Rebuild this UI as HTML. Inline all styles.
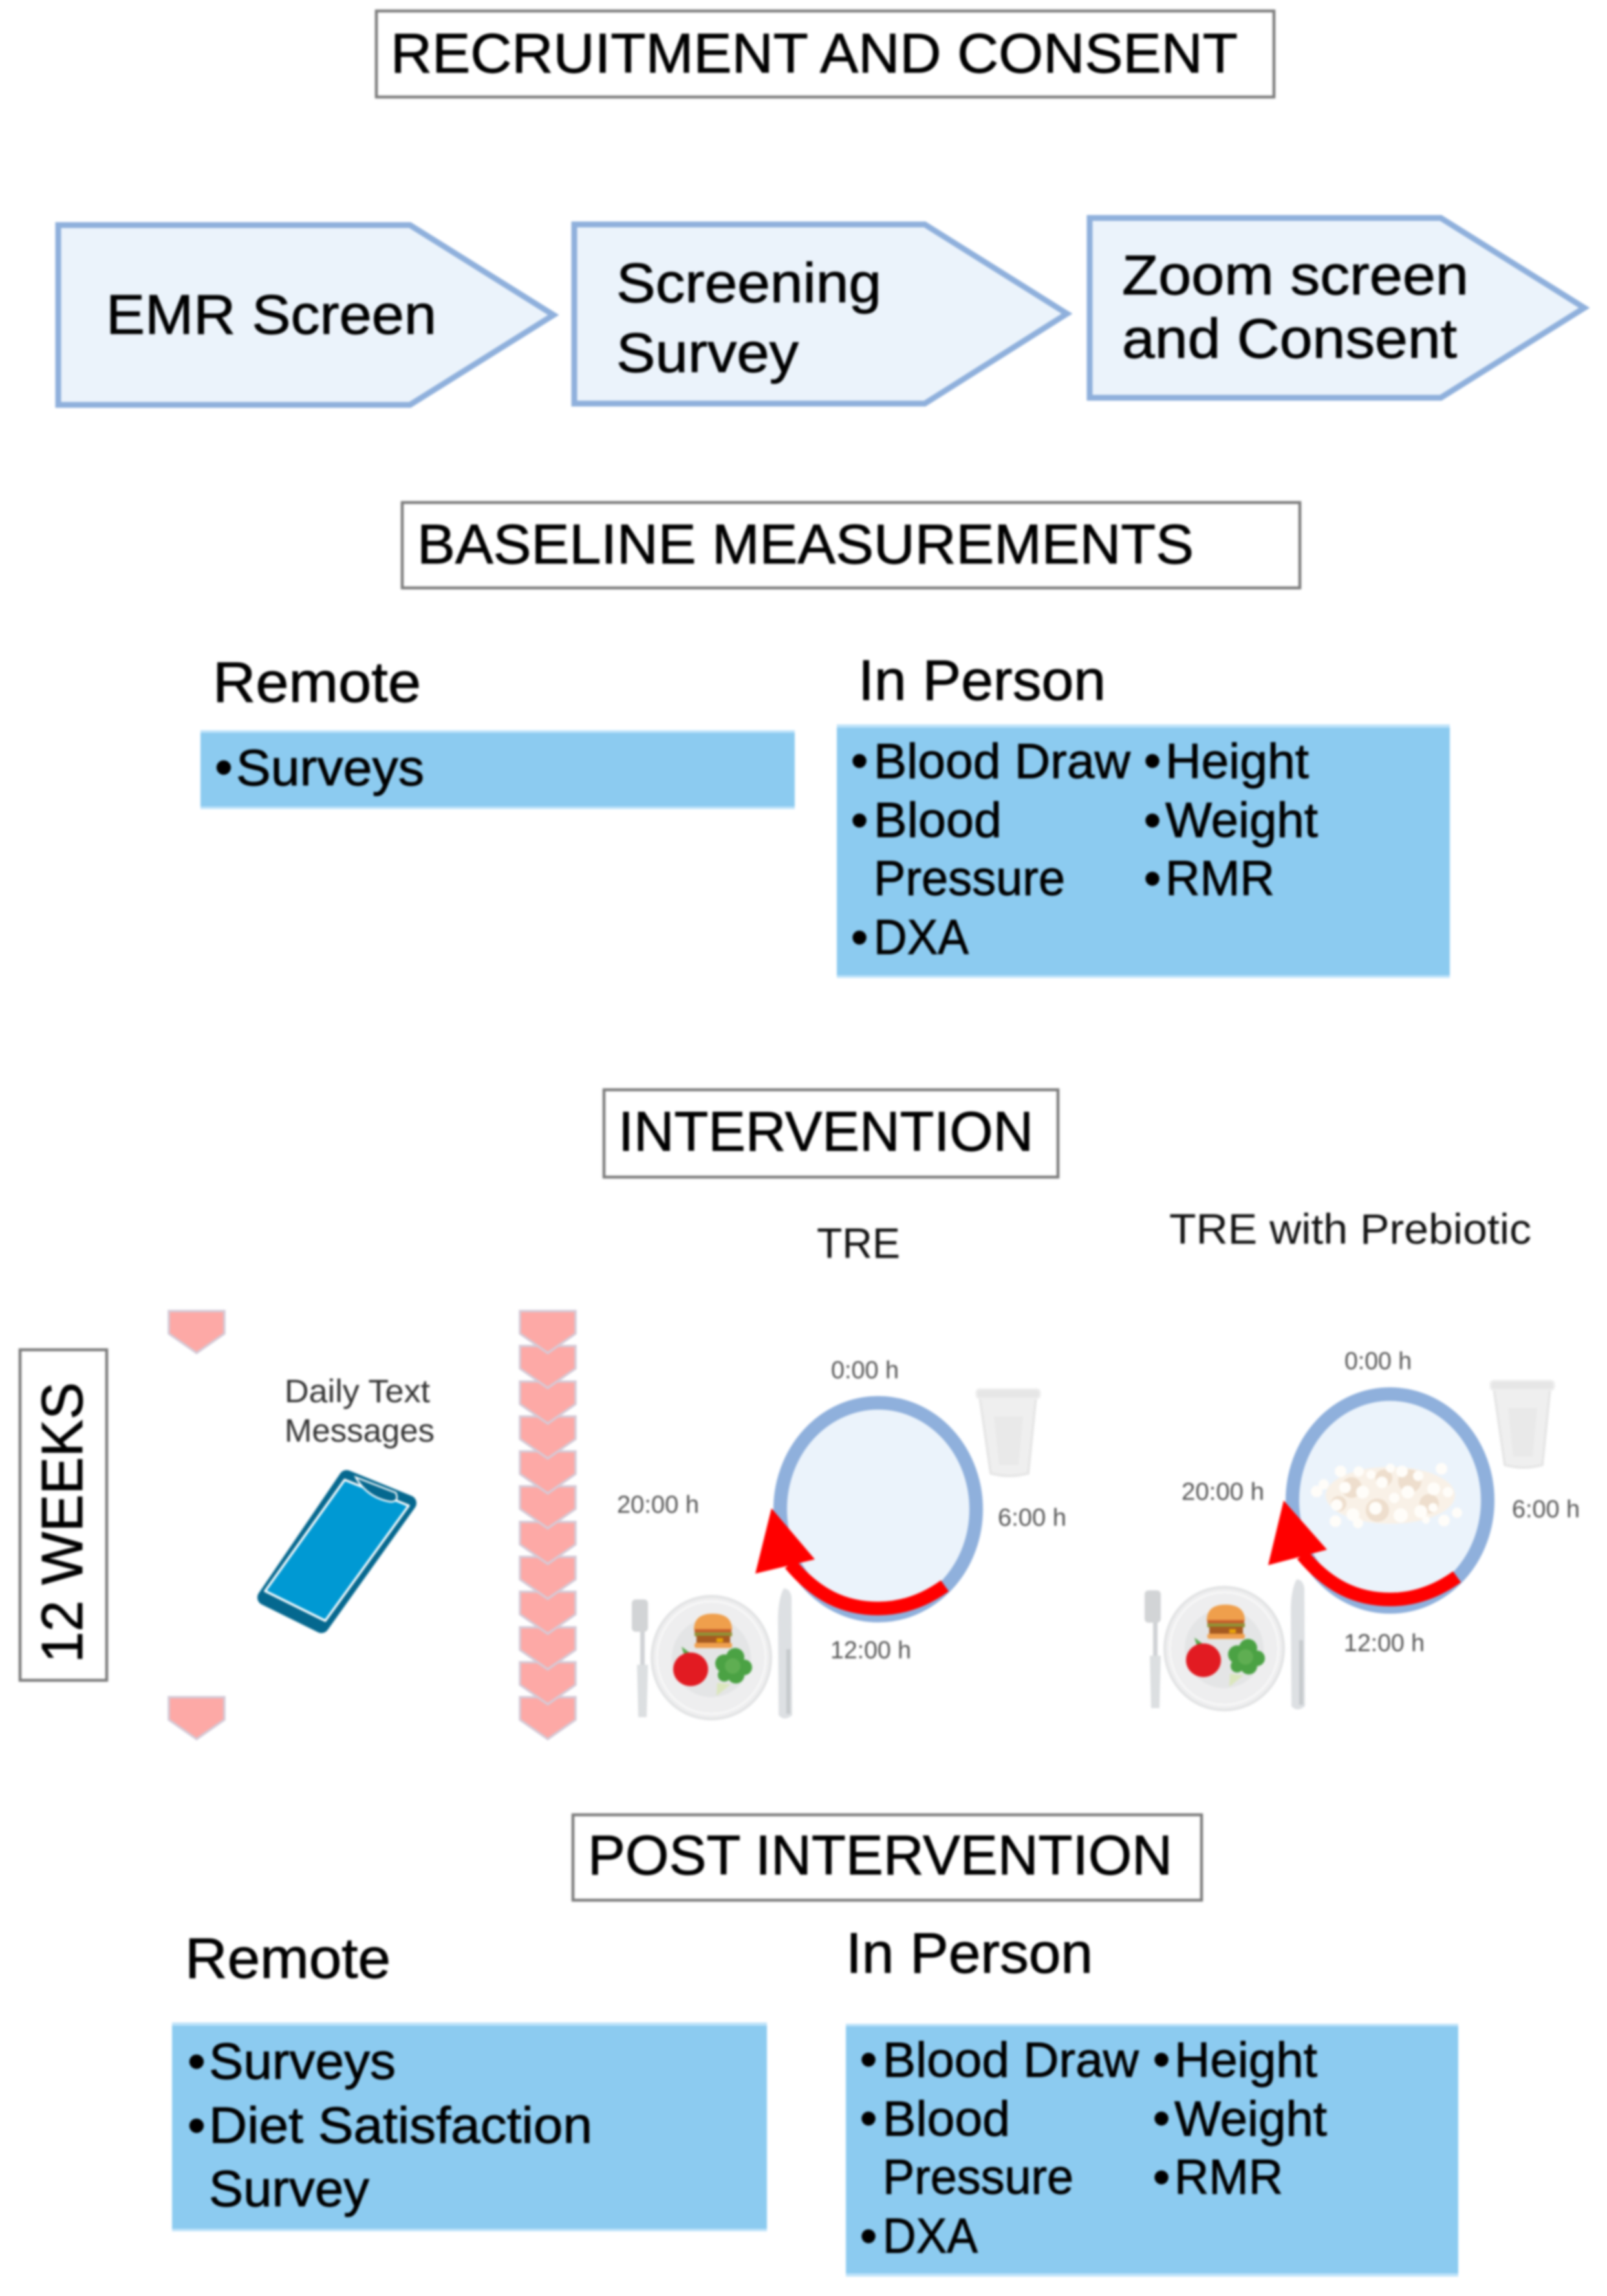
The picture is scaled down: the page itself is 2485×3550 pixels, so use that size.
<!DOCTYPE html>
<html><head><meta charset="utf-8"><title>Study flow diagram</title>
<style>
html,body{margin:0;padding:0;background:#fff}
body{width:2485px;height:3550px;overflow:hidden}
svg{display:block;filter:blur(1.6px)}
text{font-family:"Liberation Sans",sans-serif;fill:#000;stroke:#000;stroke-width:.9px}
.h{font-size:86px}.l{font-size:86px}.r{font-size:88px}.b{font-size:76px}.c{font-size:79px}
.s{font-size:38px;fill:#555;stroke:none}.d{font-size:50px;fill:#333;stroke:none}.t{font-size:66px;fill:#111;stroke:none}
.box{fill:#fff;stroke:#7c7c7c;stroke-width:4.5}
.arr{fill:#ebf3fb;stroke:#8fb0dc;stroke-width:9}
.blue{fill:#8ccbf0}
.f{fill:#bfe3fa}
.clock{fill:#ebf3fb;stroke:#8fb0dc;stroke-width:21}
</style></head><body>
<svg width="2485" height="3550" viewBox="0 0 2485 3550" xmlns="http://www.w3.org/2000/svg">
<defs>
<path id="chev" d="M-43 0H43V35L0 65L-43 35Z" fill="#fda9a6" stroke="#d3cbd8" stroke-width="3.5"/>
<g id="cup">
<path d="M1515 2160L1602 2160L1590 2278Q1561 2286 1532 2278Z" fill="#efefef" stroke="#e6e6e6" stroke-width="4"/>
<path d="M1537 2190L1582 2190L1575 2265L1545 2265Z" fill="#e9e9e9"/>
<rect x="1510" y="2148" width="98" height="14" rx="5" fill="#e6e6e6" stroke="#eeeeee" stroke-width="3"/>
</g>
<g id="plate">
<rect x="990" y="2515" width="7" height="140" rx="3" fill="#cfd2d5"/>
<path d="M985 2574H1002L1000 2655H987Z" fill="#dcdfe1"/>
<rect x="977" y="2473" width="25" height="50" rx="6" fill="#d2d4d6"/>
<path d="M1212 2456Q1222 2456 1224 2470L1225 2652Q1213 2662 1204 2652L1203 2500Q1204 2470 1212 2456Z" fill="#dde0e3"/>
<rect x="1216" y="2550" width="6" height="100" fill="#c6cacd"/>
<ellipse cx="1100" cy="2563" rx="92" ry="95" fill="#eeeeef" stroke="#e2e3e4" stroke-width="4"/>
<ellipse cx="1100" cy="2563" rx="84" ry="87" fill="none" stroke="#f8f8f8" stroke-width="3"/>
<circle cx="1100" cy="2563" r="61" fill="#e4e5e6"/>
<path d="M1073 2520Q1073 2495 1102 2495Q1132 2495 1132 2520Z" fill="#ef9f4c"/>
<rect x="1074" y="2519" width="57" height="8" fill="#c65f2b"/>
<rect x="1074" y="2524" width="58" height="6" fill="#8f9437"/>
<rect x="1077" y="2529" width="52" height="11" fill="#a65a20"/>
<rect x="1108" y="2533" width="10" height="6" fill="#e9a406"/>
<rect x="1074" y="2540" width="58" height="8" rx="3" fill="#f0a04e"/>
<path d="M1054 2546L1059 2562L1066 2555Z" fill="#58a84c"/>
<ellipse cx="1068" cy="2581" rx="27" ry="26" fill="#e21b22"/>
<path d="M1109 2602L1130 2604L1108 2622Z" fill="#dbe6bd"/>
<g fill="#4ba244"><circle cx="1120" cy="2572" r="14"/><circle cx="1137" cy="2562" r="14"/><circle cx="1151" cy="2578" r="12"/><circle cx="1138" cy="2590" r="13"/><circle cx="1120" cy="2590" r="10"/></g>
<circle cx="1133" cy="2576" r="12" fill="#5fae52"/>
</g>
</defs>

<!-- Recruitment -->
<rect class="box" x="582" y="17" width="1388" height="133"/>
<text class="h" x="604" y="112" textLength="1310" lengthAdjust="spacingAndGlyphs">RECRUITMENT AND CONSENT</text>
<path class="arr" d="M90 348H634L856 487L634 626H90Z"/>
<path class="arr" d="M888 347H1430L1650 485L1430 624H888Z"/>
<path class="arr" d="M1685 337H2228L2450 476L2228 615H1685Z"/>
<text class="l" x="164" y="516" textLength="511" lengthAdjust="spacingAndGlyphs">EMR Screen</text>
<text class="l" x="953" y="467" textLength="410" lengthAdjust="spacingAndGlyphs">Screening</text>
<text class="l" x="953" y="575" textLength="282" lengthAdjust="spacingAndGlyphs">Survey</text>
<text class="l" x="1735" y="455" textLength="536" lengthAdjust="spacingAndGlyphs">Zoom screen</text>
<text class="l" x="1735" y="553" textLength="518" lengthAdjust="spacingAndGlyphs">and Consent</text>

<!-- Baseline -->
<rect class="box" x="622" y="777" width="1388" height="132"/>
<text class="h" x="645" y="871" textLength="1201" lengthAdjust="spacingAndGlyphs">BASELINE MEASUREMENTS</text>
<text class="r" x="329" y="1085" textLength="322" lengthAdjust="spacingAndGlyphs">Remote</text>
<text class="r" x="1327" y="1082" textLength="383" lengthAdjust="spacingAndGlyphs">In Person</text>
<rect class="f" x="310" y="1129" width="919" height="122"/>
<rect class="blue" x="310" y="1133" width="919" height="114"/>
<text class="c" x="346" y="1213" text-anchor="middle">•</text>
<text class="c" x="365" y="1214" textLength="291" lengthAdjust="spacingAndGlyphs">Surveys</text>
<rect class="f" x="1294" y="1120" width="948" height="392"/>
<rect class="blue" x="1294" y="1125" width="948" height="383"/>
<text class="b" x="1329" y="1202" text-anchor="middle">•</text>
<text class="b" x="1351" y="1203" textLength="397" lengthAdjust="spacingAndGlyphs">Blood Draw</text>
<text class="b" x="1329" y="1294" text-anchor="middle">•</text>
<text class="b" x="1351" y="1294" textLength="198" lengthAdjust="spacingAndGlyphs">Blood</text>
<text class="b" x="1351" y="1384" textLength="296" lengthAdjust="spacingAndGlyphs">Pressure</text>
<text class="b" x="1329" y="1475" text-anchor="middle">•</text>
<text class="b" x="1351" y="1475" textLength="147" lengthAdjust="spacingAndGlyphs">DXA</text>
<text class="b" x="1782" y="1202" text-anchor="middle">•</text>
<text class="b" x="1802" y="1203" textLength="222" lengthAdjust="spacingAndGlyphs">Height</text>
<text class="b" x="1782" y="1294" text-anchor="middle">•</text>
<text class="b" x="1802" y="1294" textLength="236" lengthAdjust="spacingAndGlyphs">Weight</text>
<text class="b" x="1782" y="1384" text-anchor="middle">•</text>
<text class="b" x="1802" y="1384" textLength="169" lengthAdjust="spacingAndGlyphs">RMR</text>

<!-- Intervention -->
<rect class="box" x="934" y="1685" width="702" height="135"/>
<text class="h" x="956" y="1779" textLength="642" lengthAdjust="spacingAndGlyphs">INTERVENTION</text>
<text class="t" x="1263" y="1945" textLength="129" lengthAdjust="spacingAndGlyphs">TRE</text>
<text class="t" x="1808" y="1923" textLength="560" lengthAdjust="spacingAndGlyphs">TRE with Prebiotic</text>

<rect class="box" x="31" y="2087" width="134" height="511"/>
<text transform="translate(127,2571) rotate(-90)" font-size="90" textLength="434" lengthAdjust="spacingAndGlyphs">12 WEEKS</text>

<use href="#chev" x="304" y="2027"/>
<use href="#chev" x="304" y="2624"/>
<use href="#chev" x="847" y="2624"/>
<use href="#chev" x="847" y="2570"/>
<use href="#chev" x="847" y="2516"/>
<use href="#chev" x="847" y="2461"/>
<use href="#chev" x="847" y="2407"/>
<use href="#chev" x="847" y="2353"/>
<use href="#chev" x="847" y="2298"/>
<use href="#chev" x="847" y="2244"/>
<use href="#chev" x="847" y="2190"/>
<use href="#chev" x="847" y="2136"/>
<use href="#chev" x="847" y="2081"/>
<use href="#chev" x="847" y="2027"/>

<text class="d" x="440" y="2168" textLength="225" lengthAdjust="spacingAndGlyphs">Daily Text</text>
<text class="d" x="440" y="2229" textLength="232" lengthAdjust="spacingAndGlyphs">Messages</text>

<!-- Phone -->
<path d="M536 2285L632 2324L497 2513L410 2470Z" fill="#05688f" stroke="#05688f" stroke-width="24" stroke-linejoin="round"/>
<path d="M533 2288L632 2328L503 2506L410 2460Z" fill="#0099d3" stroke="#fff" stroke-width="3.5" stroke-linejoin="round"/>
<path d="M550 2284L612 2308Q618 2322 604 2322Q568 2316 550 2284Z" fill="#05688f" stroke="#fff" stroke-width="2.5"/>

<!-- TRE clock -->
<ellipse class="clock" cx="1358" cy="2333.5" rx="151.5" ry="164.5"/>
<use href="#cup"/>
<path d="M1461 2452C1425 2478 1390 2487 1358 2487C1305 2487 1262 2466 1222 2418" fill="none" stroke="#f00" stroke-width="21"/>
<path d="M1193 2332L1260 2411L1168 2433Z" fill="#f00"/>
<use href="#plate"/>
<text class="s" x="1285" y="2131" textLength="105" lengthAdjust="spacingAndGlyphs">0:00 h</text>
<text class="s" x="1543" y="2359" textLength="106" lengthAdjust="spacingAndGlyphs">6:00 h</text>
<text class="s" x="954" y="2339" textLength="127" lengthAdjust="spacingAndGlyphs">20:00 h</text>
<text class="s" x="1284" y="2564" textLength="125" lengthAdjust="spacingAndGlyphs">12:00 h</text>

<!-- TRE Prebiotic clock -->
<ellipse class="clock" cx="2149.5" cy="2320" rx="151" ry="164.5"/>
<use href="#cup" x="795" y="-13"/>
<ellipse cx="2150" cy="2312" rx="100" ry="44" fill="#f9f1e7"/>
<g fill="#eedecd"><circle cx="2090" cy="2300" r="16"/><circle cx="2180" cy="2290" r="18"/><circle cx="2130" cy="2335" r="18"/><circle cx="2210" cy="2325" r="15"/><circle cx="2140" cy="2285" r="13"/><circle cx="2070" cy="2325" r="12"/></g>
<g fill="#fffdf9">
<circle cx="2036" cy="2306" r="9"/><circle cx="2073" cy="2275" r="9"/><circle cx="2229" cy="2271" r="9"/>
<circle cx="2047" cy="2295" r="8"/><circle cx="2101" cy="2275" r="8"/><circle cx="2168" cy="2275" r="9"/>
<circle cx="2193" cy="2282" r="8"/><circle cx="2067" cy="2327" r="9"/><circle cx="2107" cy="2307" r="10"/>
<circle cx="2137" cy="2292" r="9"/><circle cx="2177" cy="2307" r="10"/><circle cx="2217" cy="2302" r="10"/>
<circle cx="2239" cy="2307" r="8"/><circle cx="2092" cy="2342" r="10"/><circle cx="2127" cy="2332" r="10"/>
<circle cx="2166" cy="2343" r="11"/><circle cx="2197" cy="2337" r="10"/><circle cx="2065" cy="2352" r="9"/>
<circle cx="2100" cy="2355" r="8"/><circle cx="2233" cy="2351" r="9"/><circle cx="2253" cy="2339" r="8"/>
<circle cx="2156" cy="2316" r="8"/><circle cx="2216" cy="2331" r="7"/><circle cx="2080" cy="2300" r="9"/>
<circle cx="2150" cy="2270" r="7"/><circle cx="2205" cy="2350" r="6"/><circle cx="2120" cy="2280" r="7"/>
</g>
<path d="M2253 2438C2217 2464 2182 2473 2150 2473C2097 2473 2054 2452 2014 2404" fill="none" stroke="#f00" stroke-width="21"/>
<path d="M1985 2320L2052 2396L1961 2420Z" fill="#f00"/>
<use href="#plate" x="793" y="-14"/>
<text class="s" x="2079" y="2117" textLength="104" lengthAdjust="spacingAndGlyphs">0:00 h</text>
<text class="s" x="2338" y="2346" textLength="105" lengthAdjust="spacingAndGlyphs">6:00 h</text>
<text class="s" x="1827" y="2319" textLength="128" lengthAdjust="spacingAndGlyphs">20:00 h</text>
<text class="s" x="2078" y="2553" textLength="125" lengthAdjust="spacingAndGlyphs">12:00 h</text>

<!-- Post intervention -->
<rect class="box" x="886" y="2806" width="972" height="132"/>
<text class="h" x="909" y="2898" textLength="904" lengthAdjust="spacingAndGlyphs">POST INTERVENTION</text>
<text class="r" x="286" y="3058" textLength="318" lengthAdjust="spacingAndGlyphs">Remote</text>
<text class="r" x="1308" y="3050" textLength="382" lengthAdjust="spacingAndGlyphs">In Person</text>
<rect class="f" x="266" y="3127" width="920" height="323"/>
<rect class="blue" x="266" y="3132" width="920" height="314"/>
<text class="c" x="304" y="3214" text-anchor="middle">•</text>
<text class="c" x="323" y="3214" textLength="289" lengthAdjust="spacingAndGlyphs">Surveys</text>
<text class="c" x="304" y="3313" text-anchor="middle">•</text>
<text class="c" x="323" y="3313" textLength="593" lengthAdjust="spacingAndGlyphs">Diet Satisfaction</text>
<text class="c" x="323" y="3411" textLength="248" lengthAdjust="spacingAndGlyphs">Survey</text>
<rect class="f" x="1308" y="3129" width="947" height="391"/>
<rect class="blue" x="1308" y="3133" width="947" height="382"/>
<text class="b" x="1343" y="3210" text-anchor="middle">•</text>
<text class="b" x="1365" y="3211" textLength="396" lengthAdjust="spacingAndGlyphs">Blood Draw</text>
<text class="b" x="1343" y="3301" text-anchor="middle">•</text>
<text class="b" x="1365" y="3302" textLength="197" lengthAdjust="spacingAndGlyphs">Blood</text>
<text class="b" x="1365" y="3392" textLength="295" lengthAdjust="spacingAndGlyphs">Pressure</text>
<text class="b" x="1343" y="3483" text-anchor="middle">•</text>
<text class="b" x="1365" y="3483" textLength="147" lengthAdjust="spacingAndGlyphs">DXA</text>
<text class="b" x="1796" y="3210" text-anchor="middle">•</text>
<text class="b" x="1816" y="3211" textLength="221" lengthAdjust="spacingAndGlyphs">Height</text>
<text class="b" x="1796" y="3301" text-anchor="middle">•</text>
<text class="b" x="1816" y="3302" textLength="236" lengthAdjust="spacingAndGlyphs">Weight</text>
<text class="b" x="1796" y="3392" text-anchor="middle">•</text>
<text class="b" x="1816" y="3392" textLength="168" lengthAdjust="spacingAndGlyphs">RMR</text>
</svg>
</body></html>
